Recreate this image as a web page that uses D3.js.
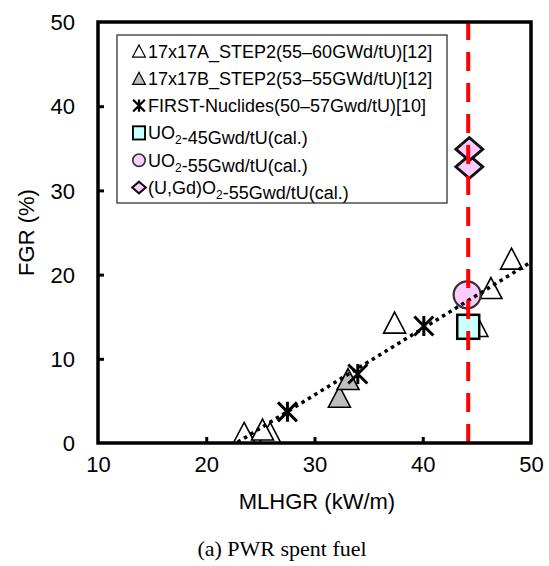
<!DOCTYPE html>
<html>
<head>
<meta charset="utf-8">
<script src="https://cdn.jsdelivr.net/npm/d3@7/dist/d3.min.js"></script>
<style>
  html, body { margin: 0; padding: 0; background: #fff; }
  svg { display: block; }
  text { fill: #000; }
</style>
</head>
<body>
<svg id="chart" width="549" height="566"></svg>
<script>
// ---------- data ----------
const xTicks = [10, 20, 30, 40, 50];
const yTicks = [0, 10, 20, 30, 40, 50];
const xTitle = "MLHGR (kW/m)";
const yTitle = "FGR (%)";
const caption = "(a) PWR spent fuel";

const step2A = [[23.5, 1.2], [25.9, 1.2], [25.2, 1.6], [37.4, 14.3], [45.0, 13.9], [46.3, 18.4], [48.2, 21.9]];
const step2B = [[32.3, 5.5], [33.1, 7.6]];
const firstNuclides = [[27.5, 3.7], [34.0, 8.2], [40.1, 13.9]];
const uo2_45 = [[44.2, 13.8]];
const uo2_55 = [[44.1, 17.6]];
const uGd_55 = [[44.3, 32.8], [44.3, 34.9]];
const trend = [[22.9, 0.1], [50, 21.5]];
const limitX = 44.2;

const legendLabels = [
  "17x17A_STEP2(55\u201360GWd/tU)[12]",
  "17x17B_STEP2(53\u201355GWd/tU)[12]",
  "FIRST-Nuclides(50\u201357Gwd/tU)[10]",
  "UO{2}-45Gwd/tU(cal.)",
  "UO{2}-55Gwd/tU(cal.)",
  "(U,Gd)O{2}-55Gwd/tU(cal.)"
];
const legendKinds = ["triW", "triG", "ast", "sq", "circ", "dia"];

// ---------- layout ----------
const SANS = "'Liberation Sans', Arial, sans-serif";
const SERIF = "'Liberation Serif', 'Times New Roman', serif";
const svg = d3.select("#chart");
const L = 98, R = 531, T = 22, B = 443;
const x = d3.scaleLinear().domain([10, 50]).range([L, R]);
const y = d3.scaleLinear().domain([0, 50]).range([B, T]);

function tri(w, h) { return `M0,${-h/2}L${w/2},${h/2}L${-w/2},${h/2}Z`; }
function dia(w, h) { return `M0,${-h/2}L${w/2},0L0,${h/2}L${-w/2},0Z`; }
function ast(s) {
  const a = s/2;
  return `M${-a},${-a}L${a},${a}M${a},${-a}L${-a},${a}M0,${-a*1.05}L0,${a*1.05}`;
}
function drawMarker(g, kind, k, sw) {
  if (kind === "triW" || kind === "triG") {
    g.append("path").attr("d", tri(22*k, 21*k))
      .attr("fill", kind === "triW" ? "#fff" : "#bfbfbf")
      .attr("stroke", "#000").attr("stroke-width", 1.6*sw).attr("stroke-linejoin", "miter");
  } else if (kind === "ast") {
    g.append("path").attr("d", ast(19*k)).attr("fill", "none")
      .attr("stroke", "#000").attr("stroke-width", 3*sw);
  } else if (kind === "sq") {
    g.append("rect").attr("x", -11*k).attr("y", -12*k).attr("width", 22*k).attr("height", 24*k)
      .attr("fill", "#ccffff").attr("stroke", "#000").attr("stroke-width", 2.5*sw);
  } else if (kind === "circ") {
    g.append("circle").attr("r", 13.5*k).attr("fill", "#ffccff")
      .attr("stroke", "#333").attr("stroke-width", 2.2*sw);
  } else if (kind === "dia") {
    g.append("path").attr("d", dia(27*k, 23*k)).attr("fill", "#ffccff")
      .attr("stroke", "#111").attr("stroke-width", 2.8*sw).attr("stroke-linejoin", "miter");
  }
}

svg.append("defs").append("clipPath").attr("id", "plotclip")
  .append("rect").attr("x", L).attr("y", T).attr("width", R - L).attr("height", B - T);

const plot = svg.append("g").attr("clip-path", "url(#plotclip)");

function series(data, kind) {
  plot.append("g").selectAll("g").data(data).join("g")
    .attr("transform", d => `translate(${x(d[0])},${y(d[1])})`)
    .each(function() { drawMarker(d3.select(this), kind, 1, 1); });
}
series(step2A, "triW");
series(step2B, "triG");
series(firstNuclides, "ast");
series(uo2_45, "sq");
series(uo2_55, "circ");
series(uGd_55, "dia");

plot.append("path")
  .attr("d", d3.line().x(d => x(d[0])).y(d => y(d[1]))(trend))
  .attr("fill", "none").attr("stroke", "#000").attr("stroke-width", 3.5)
  .attr("stroke-dasharray", "3.5 4");

plot.append("line")
  .attr("x1", x(limitX)).attr("x2", x(limitX))
  .attr("y1", y(0)).attr("y2", y(50))
  .attr("stroke", "#ff0000").attr("stroke-width", 4).attr("stroke-dasharray", "19 12");

// axes
const xAxis = d3.axisBottom(x).tickValues(xTicks).tickSizeInner(-6).tickSizeOuter(0).tickPadding(13);
const yAxis = d3.axisLeft(y).tickValues(yTicks).tickSizeInner(-6).tickSizeOuter(0).tickPadding(23);

const gx = svg.append("g").attr("transform", `translate(0,${B})`).call(xAxis);
const gy = svg.append("g").attr("transform", `translate(${L},0)`).call(yAxis);
[gx, gy].forEach(g => {
  g.select(".domain").remove();
  g.selectAll(".tick line").attr("stroke", "#000").attr("stroke-width", 3);
  g.selectAll(".tick text").style("font-size", "22px").style("font-family", SANS).attr("fill", "#000");
});
gx.selectAll(".tick line").filter(d => d === 10 || d === 50).remove();
gy.selectAll(".tick line").filter(d => d === 0 || d === 50).remove();
gx.selectAll(".tick text").attr("dy", "0.71em");
gy.selectAll(".tick text").attr("dy", "0.35em");

svg.append("rect").attr("x", L).attr("y", T).attr("width", R - L).attr("height", B - T)
  .attr("fill", "none").attr("stroke", "#000").attr("stroke-width", 3.5);

// titles
svg.append("text").attr("x", 317).attr("y", 509).attr("text-anchor", "middle")
  .style("font-family", SANS).style("font-size", "22px").text(xTitle);
svg.append("text").attr("transform", `translate(34,${(T + B) / 2}) rotate(-90)`)
  .attr("text-anchor", "middle").style("font-family", SANS).style("font-size", "22px").text(yTitle);
svg.append("text").attr("x", 282).attr("y", 556).attr("text-anchor", "middle")
  .style("font-family", SERIF).style("font-size", "22px").text(caption);

// legend
const lg = svg.append("g");
lg.append("rect").attr("x", 117).attr("y", 35).attr("width", 330).attr("height", 168)
  .attr("fill", "#fff").attr("stroke", "#333").attr("stroke-width", 1.3);
const legendScale = { triW: 0.58, triG: 0.58, ast: 0.62, sq: 0.55, circ: 0.46, dia: 0.5 };
legendKinds.forEach((kind, i) => {
  const lab = legendLabels[i];
  const cy = 51 + i * 27.3;
  const mg = lg.append("g").attr("transform", `translate(139,${cy})`);
  drawMarker(mg, kind, legendScale[kind], 0.75);
  const t = lg.append("text").attr("x", 148).attr("y", cy + 6.5)
    .style("font-family", SANS).style("font-size", "18px");
  const parts = lab.split(/(\{[^}]*\})/).filter(s => s.length);
  parts.forEach(p => {
    if (p.startsWith("{")) {
      t.append("tspan").style("font-size", "12px").attr("dy", 5).text(p.slice(1, -1));
      t.append("tspan").attr("dy", -5).text("");
    } else {
      t.append("tspan").text(p);
    }
  });
});
</script>
</body>
</html>
